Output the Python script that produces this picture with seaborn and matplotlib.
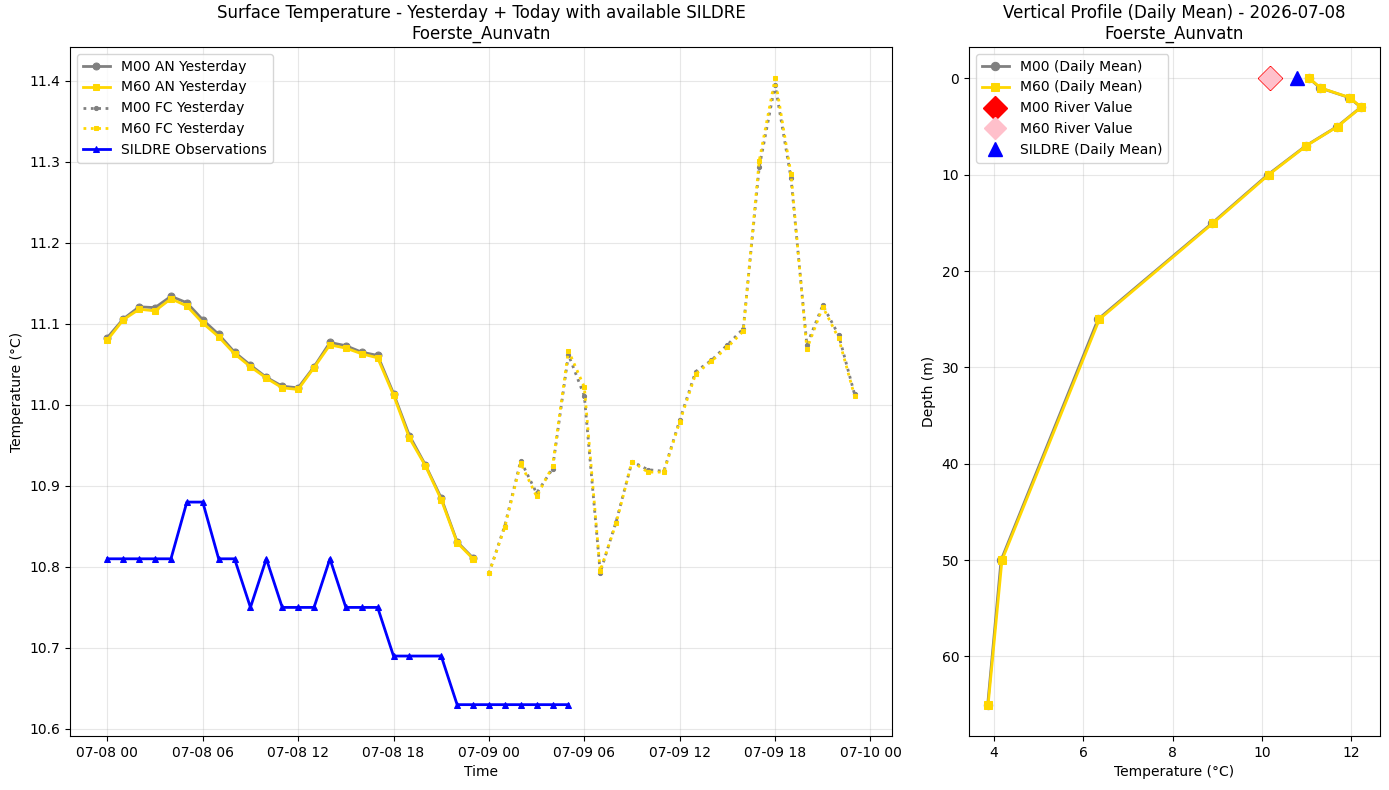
import numpy as np
import pandas as pd
import matplotlib
matplotlib.use("Agg")
import matplotlib.pyplot as plt
import matplotlib.dates as mdates
import seaborn as sns

STATION = "Foerste_Aunvatn"
DAY = "2026-07-08"

# hourly analysis for yesterday (07-08 00 .. 23)
an_times = pd.date_range("2026-07-08 00:00", periods=24, freq="h")
m00_an = [11.083, 11.106, 11.121, 11.120, 11.134, 11.126, 11.105, 11.087, 11.065, 11.049,
          11.034, 11.023, 11.021, 11.047, 11.077, 11.073, 11.065, 11.061, 11.014, 10.962,
          10.926, 10.885, 10.831, 10.811]
m60_an = [11.080, 11.105, 11.118, 11.116, 11.131, 11.122, 11.101, 11.084, 11.063, 11.047,
          11.033, 11.021, 11.019, 11.046, 11.074, 11.070, 11.063, 11.058, 11.012, 10.959,
          10.925, 10.883, 10.830, 10.810]

# hourly forecast (07-09 00 .. 23)
fc_times = pd.date_range("2026-07-09 00:00", periods=24, freq="h")
m00_fc = [10.792, 10.851, 10.931, 10.891, 10.921, 11.062, 11.011, 10.793, 10.856, 10.930,
          10.920, 10.918, 10.981, 11.041, 11.055, 11.074, 11.094, 11.293, 11.395, 11.280,
          11.074, 11.123, 11.086, 11.013]
m60_fc = [10.792, 10.849, 10.928, 10.887, 10.924, 11.067, 11.022, 10.795, 10.854, 10.930,
          10.917, 10.917, 10.979, 11.038, 11.054, 11.071, 11.091, 11.301, 11.403, 11.285,
          11.069, 11.121, 11.082, 11.011]

# SILDRE observations (no value at 07-08 20)
sildre_hours = [0, 1, 2, 3, 4, 5, 6, 7, 8, 9, 10, 11, 12, 13, 14, 15, 16, 17, 18, 19,
                21, 22, 23, 24, 25, 26, 27, 28, 29]
sildre_vals = [10.81, 10.81, 10.81, 10.81, 10.81, 10.88, 10.88, 10.81, 10.81, 10.75,
               10.81, 10.75, 10.75, 10.75, 10.81, 10.75, 10.75, 10.75, 10.69, 10.69,
               10.69, 10.63, 10.63, 10.63, 10.63, 10.63, 10.63, 10.63, 10.63]
sildre_times = pd.Timestamp("2026-07-08 00:00") + pd.to_timedelta(sildre_hours, unit="h")

# vertical profile (daily mean)
depths = [0, 1, 2, 3, 5, 7, 10, 15, 25, 50, 65]
m00_prof = [11.05, 11.30, 11.95, 12.21, 11.68, 10.98, 10.13, 8.89, 6.33, 4.16, 3.86]
m60_prof = [11.06, 11.31, 11.96, 12.22, 11.69, 10.99, 10.15, 8.91, 6.36, 4.18, 3.87]
m00_river = 10.18
m60_river = 10.18
sildre_mean = 10.79

fig, (ax1, ax2) = plt.subplots(1, 2, figsize=(13.89, 7.9), dpi=100,
                               gridspec_kw={"width_ratios": [2, 1]})

# left: surface temperature
sns.lineplot(x=an_times, y=m00_an, ax=ax1, color="gray", marker="o", markersize=5,
             markeredgecolor="gray", linewidth=2, label="M00 AN Yesterday")
sns.lineplot(x=an_times, y=m60_an, ax=ax1, color="gold", marker="s", markersize=5,
             markeredgecolor="gold", linewidth=2, label="M60 AN Yesterday")
sns.lineplot(x=fc_times, y=m00_fc, ax=ax1, color="gray", marker="o", markersize=3,
             markeredgecolor="gray", linewidth=2, linestyle=":", label="M00 FC Yesterday")
sns.lineplot(x=fc_times, y=m60_fc, ax=ax1, color="gold", marker="s", markersize=3,
             markeredgecolor="gold", linewidth=2, linestyle=":", label="M60 FC Yesterday")
sns.lineplot(x=sildre_times, y=sildre_vals, ax=ax1, color="blue", marker="^", markersize=5,
             markeredgecolor="blue", linewidth=2, label="SILDRE Observations")

ax1.set_title(f"Surface Temperature - Yesterday + Today with available SILDRE\n{STATION}")
ax1.set_xlabel("Time")
ax1.set_ylabel("Temperature (°C)")
ax1.xaxis.set_major_locator(mdates.HourLocator(byhour=[0, 6, 12, 18]))
ax1.xaxis.set_major_formatter(mdates.DateFormatter("%m-%d %H"))
ax1.grid(True, alpha=0.3)
ax1.legend(loc="upper left")

# right: vertical profile
sns.lineplot(x=m00_prof, y=depths, ax=ax2, sort=False, estimator=None, color="gray",
             marker="o", markersize=6, markeredgecolor="gray", linewidth=2,
             label="M00 (Daily Mean)")
sns.lineplot(x=m60_prof, y=depths, ax=ax2, sort=False, estimator=None, color="gold",
             marker="s", markersize=6, markeredgecolor="gold", linewidth=2,
             label="M60 (Daily Mean)")
ax2.plot([m00_river], [0], linestyle="none", marker="D", markersize=12, color="red",
         label="M00 River Value")
ax2.plot([m60_river], [0], linestyle="none", marker="D", markersize=11, color="pink",
         label="M60 River Value")
ax2.plot([sildre_mean], [0], linestyle="none", marker="^", markersize=10, color="blue",
         label="SILDRE (Daily Mean)")
ax2.invert_yaxis()
ax2.set_title(f"Vertical Profile (Daily Mean) - {DAY}\n{STATION}")
ax2.set_xlabel("Temperature (°C)")
ax2.set_ylabel("Depth (m)")
ax2.grid(True, alpha=0.3)
ax2.legend(loc="upper left")

plt.subplots_adjust(left=0.0504, right=0.9935, top=0.9405, bottom=0.0684, wspace=0.125)
plt.savefig("out.png", dpi=100)
